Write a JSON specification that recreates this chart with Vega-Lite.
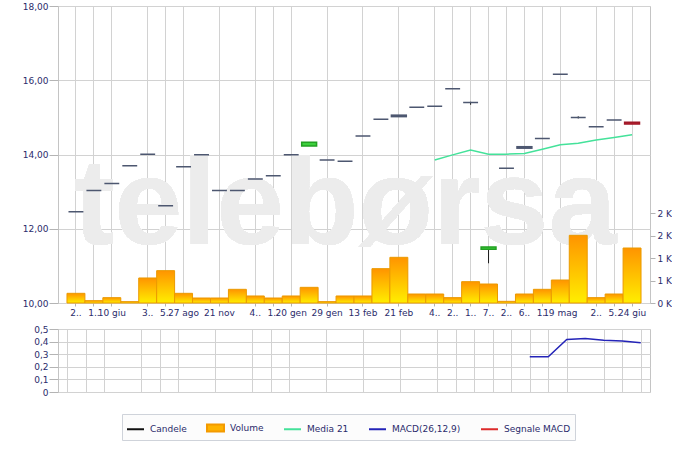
{
  "$schema": "https://vega.github.io/schema/vega-lite/v6.json",
  "padding": {"left": 21, "top": 1, "right": 0, "bottom": 0},
  "background": "white",
  "config": {
    "font": "DejaVu Sans",
    "view": {"stroke": "#c4c4c4"},
    "axis": {"labelFont": "DejaVu Sans", "labelFontSize": 9, "labelColor": "#2b2b6b", "gridColor": "#d2d2d2", "tickColor": "#b4b4b4", "domainColor": "#b4b4b4", "title": null}
  },
  "datasets": {
    "d": [
      {"i": 1, "o": 12.46, "h": 12.46, "l": 12.46, "c": 12.46, "dir": "flat", "vol": 215, "ma": null, "macd": null},
      {"i": 2, "o": 13.03, "h": 13.03, "l": 13.03, "c": 13.03, "dir": "flat", "vol": 52, "ma": null, "macd": null},
      {"i": 3, "o": 13.22, "h": 13.22, "l": 13.22, "c": 13.22, "dir": "flat", "vol": 119, "ma": null, "macd": null},
      {"i": 4, "o": 13.7, "h": 13.7, "l": 13.7, "c": 13.7, "dir": "flat", "vol": 30, "ma": null, "macd": null},
      {"i": 5, "o": 14.01, "h": 14.01, "l": 14.01, "c": 14.01, "dir": "flat", "vol": 556, "ma": null, "macd": null},
      {"i": 6, "o": 12.62, "h": 12.62, "l": 12.62, "c": 12.62, "dir": "flat", "vol": 719, "ma": null, "macd": null},
      {"i": 7, "o": 13.67, "h": 13.67, "l": 13.67, "c": 13.67, "dir": "flat", "vol": 215, "ma": null, "macd": null},
      {"i": 8, "o": 13.99, "h": 13.99, "l": 13.99, "c": 13.99, "dir": "flat", "vol": 111, "ma": null, "macd": null},
      {"i": 9, "o": 13.03, "h": 13.03, "l": 13.03, "c": 13.03, "dir": "flat", "vol": 111, "ma": null, "macd": null},
      {"i": 10, "o": 13.03, "h": 13.03, "l": 13.03, "c": 13.03, "dir": "flat", "vol": 304, "ma": null, "macd": null},
      {"i": 11, "o": 13.34, "h": 13.34, "l": 13.34, "c": 13.34, "dir": "flat", "vol": 156, "ma": null, "macd": null},
      {"i": 12, "o": 13.43, "h": 13.43, "l": 13.43, "c": 13.43, "dir": "flat", "vol": 111, "ma": null, "macd": null},
      {"i": 13, "o": 13.99, "h": 13.99, "l": 13.99, "c": 13.99, "dir": "flat", "vol": 156, "ma": null, "macd": null},
      {"i": 14, "o": 14.23, "h": 14.33, "l": 14.23, "c": 14.33, "dir": "up", "vol": 348, "ma": null, "macd": null},
      {"i": 15, "o": 13.85, "h": 13.85, "l": 13.85, "c": 13.85, "dir": "flat", "vol": 30, "ma": null, "macd": null},
      {"i": 16, "o": 13.82, "h": 13.82, "l": 13.82, "c": 13.82, "dir": "flat", "vol": 156, "ma": null, "macd": null},
      {"i": 17, "o": 14.5, "h": 14.5, "l": 14.5, "c": 14.5, "dir": "flat", "vol": 156, "ma": null, "macd": null},
      {"i": 18, "o": 14.95, "h": 14.95, "l": 14.95, "c": 14.95, "dir": "flat", "vol": 763, "ma": null, "macd": null},
      {"i": 19, "o": 15.06, "h": 15.06, "l": 15.02, "c": 15.02, "dir": "flat", "vol": 1015, "ma": null, "macd": null},
      {"i": 20, "o": 15.27, "h": 15.27, "l": 15.27, "c": 15.27, "dir": "flat", "vol": 200, "ma": null, "macd": null},
      {"i": 21, "o": 15.3, "h": 15.3, "l": 15.3, "c": 15.3, "dir": "flat", "vol": 200, "ma": 13.85, "macd": null},
      {"i": 22, "o": 15.77, "h": 15.77, "l": 15.77, "c": 15.77, "dir": "flat", "vol": 119, "ma": 13.99, "macd": null},
      {"i": 23, "o": 15.4, "h": 15.42, "l": 15.34, "c": 15.4, "dir": "flat", "vol": 474, "ma": 14.12, "macd": null},
      {"i": 24, "o": 11.45, "h": 11.51, "l": 11.07, "c": 11.51, "dir": "up", "vol": 422, "ma": 14.01, "macd": null},
      {"i": 25, "o": 13.63, "h": 13.63, "l": 13.63, "c": 13.63, "dir": "flat", "vol": 37, "ma": 14.01, "macd": null},
      {"i": 26, "o": 14.21, "h": 14.21, "l": 14.17, "c": 14.17, "dir": "flat", "vol": 200, "ma": 14.03, "macd": 0.28},
      {"i": 27, "o": 14.43, "h": 14.43, "l": 14.43, "c": 14.43, "dir": "flat", "vol": 304, "ma": 14.14, "macd": 0.28},
      {"i": 28, "o": 16.16, "h": 16.16, "l": 16.16, "c": 16.16, "dir": "flat", "vol": 511, "ma": 14.26, "macd": 0.417},
      {"i": 29, "o": 15.0, "h": 15.03, "l": 14.97, "c": 15.0, "dir": "flat", "vol": 1504, "ma": 14.3, "macd": 0.425},
      {"i": 30, "o": 14.75, "h": 14.75, "l": 14.75, "c": 14.75, "dir": "flat", "vol": 119, "ma": 14.39, "macd": 0.41},
      {"i": 31, "o": 14.93, "h": 14.93, "l": 14.93, "c": 14.93, "dir": "flat", "vol": 200, "ma": 14.46, "macd": 0.405},
      {"i": 32, "o": 14.87, "h": 14.87, "l": 14.82, "c": 14.82, "dir": "down", "vol": 1222, "ma": 14.53, "macd": 0.39}
    ]
  },
  "bounds": "flush",
  "spacing": 26,
  "vconcat": [
    {
      "width": 592,
      "height": 297,
      "data": {"name": "d"},
      "encoding": {
        "x": {
          "field": "i", "type": "ordinal",
          "scale": {"paddingInner": 0, "paddingOuter": 0.5},
          "axis": {
            "values": [1, 2, 3, 5, 6, 7, 9, 11, 12, 13, 15, 17, 19, 21, 22, 23, 24, 25, 26, 27, 28, 30, 31, 32],
            "labelExpr": "['','2..','1..','10 giu','','3..','5..','27 ago','','21 nov','','4..','1..','20 gen','','29 gen','','13 feb','','21 feb','','4..','2..','1..','7..','2..','6..','1..','19 mag','','2..','5..','24 giu'][datum.value]",
            "labelAngle": 0, "labelOverlap": false, "labelPadding": 2, "tickSize": 3, "domain": false, "grid": true
          }
        }
      },
      "layer": [
        {
          "mark": {"type": "text", "text": "telebørsa", "font": "Liberation Sans", "fontWeight": "bold", "fontSize": 122, "align": "center", "baseline": "alphabetic", "fill": "#ececec", "clip": true},
          "encoding": {
            "x": {"datum": 16},
            "y": {"datum": 11.6, "type": "quantitative", "scale": {"domain": [10, 18], "nice": false}, "axis": null}
          }
        },
        {
          "mark": {
            "type": "bar",
            "fill": {"gradient": "linear", "x1": 0, "y1": 0, "x2": 0, "y2": 1, "stops": [{"offset": 0, "color": "#ff9400"}, {"offset": 1, "color": "#ffee00"}]},
            "stroke": "#eb9a00", "strokeWidth": 1
          },
          "encoding": {
            "y": {
              "field": "vol", "type": "quantitative",
              "scale": {"domain": [0, 6600], "nice": false},
              "axis": {"orient": "right", "values": [0, 500, 1000, 1500, 2000], "labelExpr": "round(datum.value/1000) + ' K'", "grid": false, "domain": false, "tickSize": 5, "labelPadding": 2}
            }
          }
        },
        {
          "encoding": {
            "y": {
              "field": "o", "type": "quantitative",
              "scale": {"domain": [10, 18], "nice": false},
              "axis": {"orient": "left", "values": [10, 12, 14, 16, 18], "labelExpr": "replace(format(datum.value, '.2f'), '.', ',')", "grid": true, "domain": false, "tickSize": 9, "labelPadding": 1}
            }
          },
          "layer": [
            {
              "mark": {"type": "rule", "color": "#1a1a1a", "strokeWidth": 1},
              "encoding": {"y": {"field": "l", "type": "quantitative"}, "y2": {"field": "h"}}
            },
            {
              "mark": {"type": "bar", "width": {"band": 0.83}, "strokeWidth": 1.5},
              "encoding": {
                "y": {"field": "o", "type": "quantitative"},
                "y2": {"field": "c"},
                "fill": {"field": "dir", "type": "nominal", "scale": {"domain": ["up", "down", "flat"], "range": ["#3cd03c", "#cc2030", "#4d5770"]}, "legend": null},
                "stroke": {"field": "dir", "type": "nominal", "scale": {"domain": ["up", "down", "flat"], "range": ["#22a022", "#a01828", "#4d5770"]}, "legend": null}
              }
            },
            {
              "mark": {"type": "line", "strokeWidth": 1.5},
              "encoding": {
                "y": {"field": "ma", "type": "quantitative"},
                "color": {
                  "datum": "Media 21", "type": "nominal",
                  "scale": {"domain": ["Candele", "Volume", "Media 21", "MACD(26,12,9)", "Segnale MACD"], "range": ["#111111", "#f39a00", "#44e29a", "#2424b8", "#dd2a2a"]},
                  "legend": {
                    "orient": "none", "legendX": 64, "legendY": 408,
                    "direction": "horizontal", "columns": 5, "title": null,
                    "symbolType": "stroke", "symbolSize": 289, "symbolStrokeWidth": 2,
                    "labelFont": "DejaVu Sans", "labelFontSize": 9, "labelColor": "#2b2b6b",
                    "columnPadding": 16, "labelOffset": 5, "padding": 4,
                    "strokeColor": "#cfd3da", "fillColor": "#fcfcfc",
                    "encode": {
                      "symbols": {
                        "update": {
                          "shape": {"signal": "datum.value === 'Volume' ? 'M-1,-0.42H1V0.42H-1Z' : 'stroke'"},
                          "fill": {"signal": "datum.value === 'Volume' ? '#ffb300' : 'transparent'"}
                        }
                      }
                    }
                  }
                }
              }
            }
          ]
        }
      ],
      "resolve": {"scale": {"y": "independent"}}
    },
    {
      "width": 592,
      "height": 63,
      "data": {"name": "d"},
      "mark": {"type": "line", "strokeWidth": 1.5},
      "encoding": {
        "x": {
          "field": "i", "type": "ordinal",
          "scale": {"paddingInner": 0, "paddingOuter": 0.5},
          "axis": {"values": [1, 2, 3, 5, 6, 7, 9, 11, 12, 13, 15, 17, 19, 21, 22, 23, 24, 25, 26, 27, 28, 30, 31, 32], "labels": false, "ticks": false, "domain": false, "grid": true}
        },
        "y": {
          "field": "macd", "type": "quantitative",
          "scale": {"domain": [0, 0.5], "nice": false},
          "axis": {"values": [0, 0.1, 0.2, 0.3, 0.4, 0.5], "labelExpr": "datum.value == 0 ? '0' : replace(format(datum.value, '.1f'), '.', ',')", "tickSize": 9, "labelPadding": 1, "domain": false, "grid": true}
        },
        "color": {"datum": "MACD(26,12,9)", "type": "nominal"}
      }
    }
  ]
}
